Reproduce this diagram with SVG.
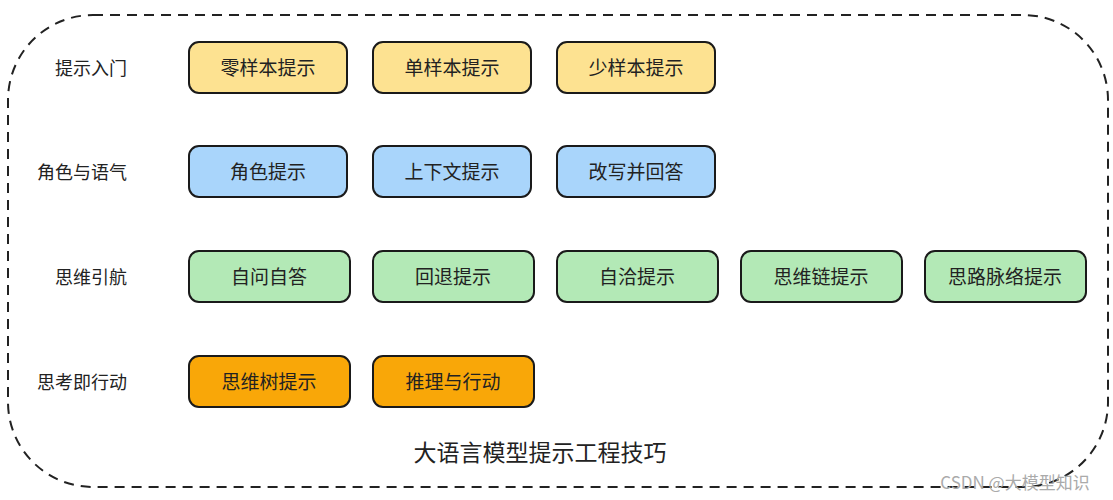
<svg xmlns="http://www.w3.org/2000/svg" width="1113" height="500" viewBox="0 0 1113 500">
<style>
.b{stroke:#1a1a1a;stroke-width:2}
.y{fill:#fde291}.u{fill:#a9d5fb}.g{fill:#b3e9b6}.o{fill:#f9a708}
text{font-family:"Noto Sans CJK SC","Liberation Sans",sans-serif;font-size:19px;fill:#222;text-anchor:middle;dominant-baseline:central}
.l{font-size:18px}
</style>
<rect width="1113" height="500" fill="#fff"/>
<rect x="8" y="15" width="1100" height="472" rx="85" fill="none" stroke="#222" stroke-width="2" stroke-dasharray="10,7"/>
<g id="labels">
<text class="l" x="91" y="67">提示入门</text>
<text class="l" x="82" y="171">角色与语气</text>
<text class="l" x="91" y="276">思维引航</text>
<text class="l" x="82" y="381">思考即行动</text>
</g>
<g id="n1"><rect class="b y" x="189" y="42" width="158" height="51" rx="10"/><text x="268" y="66">零样本提示</text></g>
<g id="n2"><rect class="b y" x="373" y="42" width="158" height="51" rx="10"/><text x="452" y="66">单样本提示</text></g>
<g id="n3"><rect class="b y" x="557" y="42" width="158" height="51" rx="10"/><text x="636" y="66">少样本提示</text></g>
<g id="n4"><rect class="b u" x="189" y="146" width="158" height="51" rx="10"/><text x="268" y="170">角色提示</text></g>
<g id="n5"><rect class="b u" x="373" y="146" width="158" height="51" rx="10"/><text x="452" y="170">上下文提示</text></g>
<g id="n6"><rect class="b u" x="557" y="146" width="158" height="51" rx="10"/><text x="636" y="170">改写并回答</text></g>
<g id="n7"><rect class="b g" x="189" y="251" width="161" height="51" rx="10"/><text x="269" y="275">自问自答</text></g>
<g id="n8"><rect class="b g" x="373" y="251" width="161" height="51" rx="10"/><text x="453" y="275">回退提示</text></g>
<g id="n9"><rect class="b g" x="557" y="251" width="161" height="51" rx="10"/><text x="637" y="275">自洽提示</text></g>
<g id="n10"><rect class="b g" x="741" y="251" width="161" height="51" rx="10"/><text x="821" y="275">思维链提示</text></g>
<g id="n11"><rect class="b g" x="925" y="251" width="161" height="51" rx="10"/><text x="1005" y="275">思路脉络提示</text></g>
<g id="n12"><rect class="b o" x="189" y="356" width="161" height="51" rx="10"/><text x="269" y="380">思维树提示</text></g>
<g id="n13"><rect class="b o" x="373" y="356" width="161" height="51" rx="10"/><text x="453" y="380">推理与行动</text></g>
<g id="connectors"/>
<text x="540" y="451" style="font-size:23px">大语言模型提示工程技巧</text>
<text x="1015" y="481" style="font-size:17px;fill:#aaa">CSDN @大模型知识</text>
</svg>
